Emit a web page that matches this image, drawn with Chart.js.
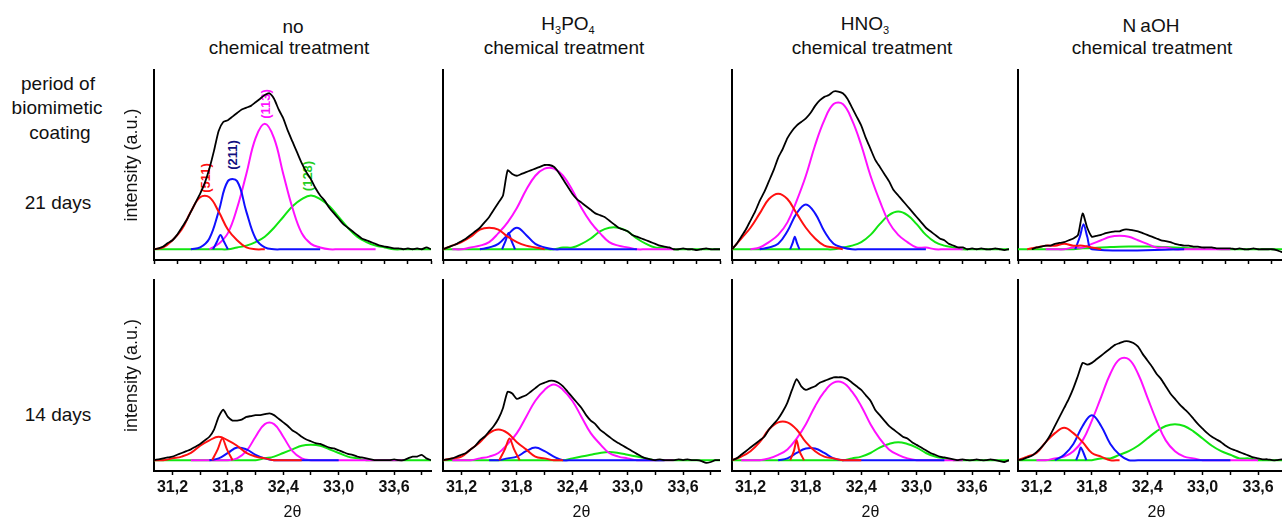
<!DOCTYPE html>
<html>
<head>
<meta charset="utf-8">
<script src="https://cdn.jsdelivr.net/npm/chart.js@4.4.1/dist/chart.umd.min.js"></script>
<style>
  body { margin: 0; width: 1282px; height: 519px; overflow: hidden; background: #fff; position: relative;
         font-family: "Liberation Sans", Arial, sans-serif; color: #111; }
  canvas { position: absolute; }
  .lbl { position: absolute; white-space: nowrap; transform: translate(-50%, -50%); font-size: 19px; line-height: 1; }
  .lbl sub { font-size: 11px; vertical-align: -4px; }
  .peak { position: absolute; white-space: nowrap; font-weight: bold; font-size: 13px; line-height: 1;
          transform: translate(-50%, -50%) rotate(-90deg); }
</style>
</head>
<body>
<div class="lbl" style="left:293px;top:26px">no</div>
<div class="lbl" style="left:289px;top:47px">chemical treatment</div>
<div class="lbl" style="left:568px;top:25px">H<sub>3</sub>PO<sub>4</sub></div>
<div class="lbl" style="left:564px;top:47px">chemical treatment</div>
<div class="lbl" style="left:865px;top:25px">HNO<sub>3</sub></div>
<div class="lbl" style="left:872px;top:47px">chemical treatment</div>
<div class="lbl" style="left:1151px;top:25px"><span style="margin-right:4px">N</span>aOH</div>
<div class="lbl" style="left:1152px;top:47px">chemical treatment</div>

<div class="lbl" style="left:58px;top:83px">period of</div>
<div class="lbl" style="left:57px;top:107px">biomimetic</div>
<div class="lbl" style="left:60px;top:132px">coating</div>
<div class="lbl" style="left:58px;top:202px">21 days</div>
<div class="lbl" style="left:58px;top:414px">14 days</div>

<div class="peak" style="left:205px;top:178px;color:#ff1010">(511)</div>
<div class="peak" style="left:232px;top:155px;color:#101080">(211)</div>
<div class="peak" style="left:265px;top:104px;color:#ff10ff">(113)</div>
<div class="peak" style="left:307px;top:176px;color:#22cc22">(128)</div>

<script>
const _ = null;

// 2θ grids
const gridFine = [31.00,31.05,31.10,31.15,31.20,31.25,31.30,31.35,31.40,31.45,31.50,31.55,31.60,31.65,31.70,31.75,31.80,31.85,31.90,31.95,
  32.00,32.05,32.10,32.15,32.20,32.25,32.30,32.35,32.40,32.45,32.50,32.55,32.60,32.65,32.70,32.75,32.80,32.85,32.90,32.95,
  33.00,33.05,33.10,33.15,33.20,33.25,33.30,33.35,33.40,33.45,33.50,33.55,33.60,33.65,33.70,33.75,33.80,33.85,33.90,33.95,34.00];
const gridCoarse = [31.0,31.1,31.2,31.3,31.4,31.5,31.6,31.7,31.8,31.9,32.0,32.1,32.2,32.3,32.4,32.5,32.6,32.7,32.8,32.9,
  33.0,33.1,33.2,33.3,33.4,33.5,33.6,33.7,33.8,33.9,34.0];

// tick positions and labels
const topTicks = [31.0,31.25,31.5,31.75,32.0,32.25,32.5,32.75,33.0,33.25,33.5,33.75,34.0];
const bottomTicks = [31.2,31.5,31.8,32.1,32.4,32.7,33.0,33.3,33.6,33.9];
const labelTicks = [31.2,31.8,32.4,33.0,33.6];
const tickLabels = ['31,2','31,8','32,4','33,0','33,6'];

// ---- 21 days, no treatment
const t1Black = [0,0.005,0.015,0.035,0.05,0.08,0.12,0.16,0.21,0.26,0.31,0.37,0.45,0.55,0.66,0.71,0.72,0.74,0.76,0.78,
  0.79,0.80,0.82,0.84,0.86,0.87,0.84,0.78,0.73,0.66,0.60,0.54,0.48,0.43,0.39,0.34,0.30,0.27,0.23,0.20,
  0.17,0.14,0.12,0.10,0.08,0.06,0.05,0.04,0.03,0.02,0.015,0.01,0.005,0.005,0,0.005,0,0.005,0,0.01,0];
const t1Red = [0,0.01,0.05,0.11,0.21,0.29,0.29,0.21,0.11,0.05,0.01,0,0,_,_,_,_,_,_,_,_,_,_,_,_,_,_,_,_,_,_];
const t1Blue = [_,_,_,_,0,0.01,0.06,0.21,0.38,0.38,0.21,0.06,0.01,0,0,0,0,0,0,_,_,_,_,_,_,_,_,_,_,_,_];
const t1Magenta = [_,_,_,_,_,_,0,0.03,0.09,0.23,0.42,0.62,0.70,0.62,0.42,0.23,0.09,0.03,0.01,0,0,0,0,0,0,_,_,_,_,_,_];
const t1Green = [0,0,0,0,0,0,0,0,0,0.01,0.02,0.04,0.07,0.12,0.18,0.24,0.28,0.30,0.28,0.24,0.18,0.12,0.07,0.04,0.02,0.01,0,0,0,0,0];
const t1BlueNx = [31.64,31.68,31.72,31.76,31.80];
const t1BlueNy = [0,0.04,0.08,0.04,0];

// ---- 21 days, H3PO4
const t2Black = [0,0.01,0.02,0.03,0.045,0.06,0.08,0.10,0.12,0.15,0.18,0.22,0.26,0.30,0.44,0.42,0.41,0.42,0.43,0.44,
  0.45,0.46,0.47,0.47,0.46,0.43,0.39,0.35,0.31,0.28,0.26,0.24,0.22,0.20,0.19,0.18,0.16,0.14,0.12,0.11,
  0.10,0.08,0.07,0.06,0.05,0.04,0.03,0.02,0.015,0.01,0,0,0.005,0,0,-0.005,0,0.005,0,0,0];
const t2Red = [0,0.02,0.04,0.07,0.11,0.12,0.11,0.07,0.04,0.02,0.01,0,_,_,_,_,_,_,_,_,_,_,_,_,_,_,_,_,_,_,_];
const t2Blue = [_,_,_,_,0,0.01,0.03,0.08,0.12,0.08,0.03,0.01,0,0,0,0,0,0,0,0,0,0,_,_,_,_,_,_,_,_,_];
const t2Magenta = [_,0,0,0.01,0.02,0.04,0.09,0.15,0.23,0.33,0.41,0.45,0.45,0.41,0.33,0.23,0.15,0.09,0.04,0.02,0.01,0,0,0,0,0,_,_,_,_,_];
const t2Green = [0,0,0,0,0,0,0,0,0,0,0,0,0,0.01,0.01,0.03,0.06,0.10,0.12,0.12,0.10,0.06,0.03,0.01,0.01,0,0,0,0,0,0];
const t2BlueNx = [31.64,31.68,31.71,31.74,31.78];
const t2BlueNy = [0,0.05,0.09,0.05,0];

// ---- 21 days, HNO3
const t3Black = [0,0.03,0.07,0.11,0.16,0.21,0.27,0.32,0.38,0.44,0.51,0.56,0.62,0.66,0.69,0.71,0.73,0.76,0.80,0.83,
  0.85,0.86,0.88,0.88,0.87,0.84,0.79,0.74,0.69,0.62,0.56,0.50,0.46,0.42,0.38,0.33,0.30,0.27,0.24,0.21,
  0.18,0.15,0.12,0.10,0.08,0.06,0.05,0.03,0.02,0.01,0.01,0,0.005,0,0.005,0,0,0.005,0,-0.005,0];
const t3Red = [0,0.06,0.12,0.20,0.28,0.31,0.28,0.20,0.12,0.06,0.02,0.01,0,_,_,_,_,_,_,_,_,_,_,_,_,_,_,_,_,_,_];
const t3Blue = [_,_,_,0,0.01,0.03,0.10,0.20,0.25,0.20,0.10,0.03,0.01,0,0,0,0,0,0,0,0,0,_,_,_,_,_,_,_,_,_];
const t3Magenta = [_,_,0,0.01,0.04,0.08,0.15,0.27,0.41,0.58,0.72,0.81,0.81,0.72,0.58,0.41,0.27,0.15,0.08,0.04,0.01,0.01,0,0,0,0,_,_,_,_,_];
const t3Green = [0,0,0,0,0,0,0,0,0,0,0,0,0.01,0.02,0.04,0.08,0.14,0.19,0.21,0.19,0.14,0.08,0.04,0.02,0.01,0,0,0,0,0,0];
const t3BlueNx = [31.63,31.66,31.68,31.70,31.73];
const t3BlueNy = [0,0.04,0.07,0.04,0];

// ---- 21 days, NaOH
const t4Black = [_,_,_,0,0.01,0.015,0.02,0.02,0.03,0.035,0.04,0.05,0.06,0.08,0.20,0.12,0.07,0.075,0.08,0.09,
  0.095,0.10,0.10,0.11,0.11,0.105,0.10,0.09,0.08,0.07,0.06,0.05,0.045,0.04,0.03,0.025,0.02,0.02,0.015,0.015,
  0.01,0.01,0.01,0.005,0.005,0.005,0.005,0,0.005,0,0,0.005,0,0,0,0,-0.005,-0.015,-0.02,-0.01,0];
const t4Red = [_,0,0.01,0.02,0.02,0.03,0.02,0.02,0.01,0,_,_,_,_,_,_,_,_,_,_,_,_,_,_,_,_,_,_,_,_,_];
const t4Magenta = [_,_,_,0,0,0,0.01,0.01,0.03,0.05,0.07,0.075,0.07,0.05,0.03,0.01,0.01,0,0,0,0,0,0,0,_,_,_,_,_,_,_];
const t4Green = [0,0,0,0,0,0,0,0.005,0.007,0.01,0.012,0.014,0.015,0.015,0.015,0.014,0.012,0.01,0.007,0.005,0.003,0.002,0,0,0,0,0,0,0,0,0];
const t4BlueNx = [31.62,31.67,31.71,31.75,31.80,32.80];
const t4BlueNy = [0,0.07,0.14,0.07,0,0];

// ---- 14 days, no treatment
const b1Black = [0,0.005,0.01,0.015,0.02,0.03,0.04,0.05,0.06,0.075,0.09,0.11,0.13,0.17,0.24,0.28,0.24,0.22,0.22,0.225,
  0.24,0.245,0.25,0.25,0.255,0.26,0.25,0.23,0.21,0.19,0.165,0.15,0.13,0.115,0.105,0.095,0.09,0.08,0.07,0.065,
  0.055,0.045,0.035,0.03,0.02,0.015,0.01,0.005,0,0,0,0,0.005,0,0,0.01,0.02,0.02,0.03,0.01,0];
const b1Red = [0,0,0.01,0.02,0.04,0.08,0.11,0.13,0.11,0.08,0.04,0.02,0.01,0,0,0,0,_,_,_,_,_,_,_,_,_,_,_,_,_,_];
const b1Blue = [_,_,_,_,_,_,0,0.01,0.04,0.07,0.06,0.03,0.01,0,0,0,0,0,0,0,0,_,_,_,_,_,_,_,_,_,_];
const b1Magenta = [_,_,_,_,0,0,0,0,0,0.01,0.05,0.13,0.20,0.20,0.13,0.05,0.01,0,0,0,0,0,0,0,0,0,0,0,_,_,_];
const b1Green = [0,0,0,0,0,0,0,0,0,0,0,0,0.01,0.02,0.04,0.06,0.08,0.085,0.08,0.06,0.04,0.02,0.01,0,0,0,0,0,0,0,0];
const b1RedNx = [31.63,31.69,31.74,31.79,31.85];
const b1RedNy = [0,0.06,0.12,0.06,0];

// ---- 14 days, H3PO4
const b2Black = [0,0.005,0.01,0.02,0.03,0.04,0.06,0.08,0.11,0.13,0.16,0.19,0.23,0.29,0.38,0.37,0.34,0.35,0.36,0.38,
  0.40,0.42,0.43,0.44,0.44,0.43,0.41,0.38,0.35,0.32,0.29,0.25,0.22,0.20,0.17,0.15,0.13,0.11,0.095,0.08,
  0.065,0.05,0.035,0.02,0.01,0.005,0,0.005,0,0,0,0.005,0,0.005,0,0,-0.005,-0.015,-0.01,0,0];
const b2Red = [0,0.01,0.02,0.06,0.10,0.15,0.17,0.15,0.10,0.06,0.02,0.01,0,0,_,_,_,_,_,_,_,_,_,_,_,_,_,_,_,_,_];
const b2Blue = [_,_,_,_,_,0,0,0.01,0.02,0.05,0.07,0.05,0.02,0,0,0,0,0,0,0,0,0,0,0,0,_,_,_,_,_,_];
const b2Magenta = [_,0,0,0,0.01,0.02,0.04,0.09,0.15,0.24,0.33,0.39,0.42,0.39,0.33,0.24,0.15,0.09,0.04,0.02,0.01,0,0,0,0,0,_,_,_,_,_];
const b2Green = [0,0,0,0,0,0,0,0,0,0,0,0,0,0,0.01,0.02,0.03,0.04,0.045,0.04,0.03,0.02,0.01,0,0,0,0,0,0,0,0];
const b2RedNx = [31.61,31.67,31.72,31.77,31.83];
const b2RedNy = [0,0.06,0.12,0.06,0];

// ---- 14 days, HNO3
const b3Black = [0,0.01,0.03,0.05,0.07,0.09,0.11,0.13,0.17,0.20,0.23,0.27,0.32,0.39,0.45,0.41,0.39,0.40,0.41,0.43,
  0.44,0.45,0.46,0.46,0.46,0.45,0.43,0.41,0.39,0.36,0.33,0.28,0.25,0.22,0.19,0.17,0.15,0.13,0.12,0.10,
  0.085,0.07,0.055,0.04,0.03,0.02,0.015,0.01,0.005,0,0.005,0,0,0.005,0,0,0.005,0,-0.005,-0.01,0];
const b3Red = [0,0.02,0.05,0.10,0.17,0.21,0.21,0.17,0.10,0.05,0.02,0.01,0,0,0,_,_,_,_,_,_,_,_,_,_,_,_,_,_,_,_];
const b3Blue = [_,_,_,_,_,0,0.01,0.04,0.065,0.065,0.04,0.01,0,0,0,0,0,0,0,0,0,0,0,0,_,_,_,_,_,_,_];
const b3Magenta = [_,0,0,0,0.01,0.03,0.06,0.12,0.20,0.30,0.38,0.43,0.43,0.38,0.30,0.20,0.12,0.06,0.03,0.01,0,0,0,0,0,0,_,_,_,_,_];
const b3Green = [0,0,0,0,0,0,0,0,0,0,0,0,0,0.01,0.02,0.04,0.07,0.09,0.10,0.09,0.07,0.04,0.02,0.01,0,0,0,0,0,0,0];
const b3RedNx = [31.63,31.67,31.70,31.73,31.78];
const b3RedNy = [0,0.05,0.11,0.05,0];

// ---- 14 days, NaOH
const b4Black = [0,0.005,0.015,0.025,0.045,0.07,0.10,0.14,0.19,0.24,0.29,0.34,0.40,0.47,0.54,0.53,0.54,0.56,0.58,0.60,
  0.62,0.64,0.65,0.66,0.66,0.65,0.63,0.59,0.555,0.52,0.48,0.45,0.41,0.37,0.34,0.31,0.285,0.26,0.23,0.20,
  0.175,0.15,0.13,0.115,0.10,0.08,0.065,0.055,0.045,0.035,0.025,0.015,0.01,0.005,0.005,0,0,0.005,0,0,0];
const b4Red = [0,0.02,0.04,0.10,0.15,0.18,0.15,0.10,0.04,0.02,0,0,_,_,_,_,_,_,_,_,_,_,_,_,_,_,_,_,_,_,_];
const b4Blue = [_,_,_,_,0,0.03,0.09,0.19,0.25,0.19,0.09,0.03,0,0,0,0,0,0,0,0,0,0,0,0,_,_,_,_,_,_,_];
const b4Magenta = [_,_,0,0,0.01,0.02,0.05,0.11,0.22,0.35,0.48,0.56,0.56,0.48,0.35,0.22,0.11,0.05,0.02,0.01,0,0,0,0,0,0,0,_,_,_,_];
const b4Green = [0,0,0,0,0,0,0,0,0,0.01,0.01,0.03,0.05,0.08,0.12,0.16,0.19,0.20,0.19,0.16,0.12,0.08,0.05,0.03,0.01,0.01,0,0,0,0,0];
const b4BlueNx = [31.63,31.66,31.68,31.71,31.74];
const b4BlueNy = [0,0.04,0.07,0.04,0];

const colors = { black: '#000000', red: '#ff1010', blue: '#1010ff', magenta: '#ff10ff', green: '#11e611' };

const panels = [
  { col: 0, row: 0, black: t1Black, red: t1Red, blueN: [t1BlueNx, t1BlueNy], blue: t1Blue, magenta: t1Magenta, green: t1Green },
  { col: 1, row: 0, black: t2Black, red: t2Red, blueN: [t2BlueNx, t2BlueNy], blue: t2Blue, magenta: t2Magenta, green: t2Green },
  { col: 2, row: 0, black: t3Black, red: t3Red, blueN: [t3BlueNx, t3BlueNy], blue: t3Blue, magenta: t3Magenta, green: t3Green },
  { col: 3, row: 0, black: t4Black, red: t4Red, blueN: [t4BlueNx, t4BlueNy], magenta: t4Magenta, green: t4Green },
  { col: 0, row: 1, black: b1Black, redN: [b1RedNx, b1RedNy], red: b1Red, blue: b1Blue, magenta: b1Magenta, green: b1Green },
  { col: 1, row: 1, black: b2Black, redN: [b2RedNx, b2RedNy], red: b2Red, blue: b2Blue, magenta: b2Magenta, green: b2Green },
  { col: 2, row: 1, black: b3Black, redN: [b3RedNx, b3RedNy], red: b3Red, blue: b3Blue, magenta: b3Magenta, green: b3Green },
  { col: 3, row: 1, black: b4Black, blueN: [b4BlueNx, b4BlueNy], red: b4Red, blue: b4Blue, magenta: b4Magenta, green: b4Green }
];

// layout of the plot areas on the page
const colLeft = [154, 443, 732, 1018];
const rowTop = [70, 280];
const rowHeight = [190, 191];
const plotWidth = 277;

Chart.defaults.font.family = '"Liberation Sans", Arial, sans-serif';

const series = (xs, ys) => xs.map((x, i) => ({ x: x, y: ys[i] }));
const line = (xs, ys, color, width, tension) => ({
  data: series(xs, ys), borderColor: color, borderWidth: width, pointRadius: 0, tension: tension, fill: false
});

panels.forEach(p => {
  const yW = p.col === 0 ? 54 : 6;
  const xH = p.row === 0 ? 10 : 51;
  const padTop = 4, padRight = 6;
  const canvas = document.createElement('canvas');
  canvas.width = yW + plotWidth + padRight;
  canvas.height = padTop + rowHeight[p.row] + xH;
  canvas.style.left = (colLeft[p.col] - yW) + 'px';
  canvas.style.top = (rowTop[p.row] - padTop) + 'px';
  document.body.appendChild(canvas);

  // first dataset is drawn on top
  const ds = [line(gridFine, p.black, colors.black, 1.8, 0.2)];
  if (p.redN) ds.push(line(p.redN[0], p.redN[1], colors.red, 2, 0.3));
  ds.push(line(gridCoarse, p.red, colors.red, 2, 0.4));
  if (p.blueN) ds.push(line(p.blueN[0], p.blueN[1], colors.blue, 2, 0.3));
  if (p.blue) ds.push(line(gridCoarse, p.blue, colors.blue, 2, 0.4));
  ds.push(line(gridCoarse, p.magenta, colors.magenta, 2, 0.4));
  ds.push(line(gridCoarse, p.green, colors.green, 2, 0.4));

  const ticksForRow = p.row === 0 ? topTicks : bottomTicks;

  new Chart(canvas, {
    type: 'line',
    data: { datasets: ds },
    options: {
      responsive: false,
      animation: false,
      devicePixelRatio: 1,
      layout: { padding: { top: padTop, right: padRight, left: 0, bottom: 0 } },
      plugins: { legend: { display: false }, tooltip: { enabled: false } },
      scales: {
        x: {
          type: 'linear', min: 31, max: 34,
          afterBuildTicks: s => { s.ticks = ticksForRow.map(v => ({ value: v })); },
          afterFit: s => { s.height = xH; },
          ticks: {
            autoSkip: false, maxRotation: 0, padding: 3, color: '#111', font: { size: 16, weight: 'bold' },
            callback: v => {
              if (p.row === 0) return '';
              const k = labelTicks.findIndex(t => Math.abs(t - v) < 1e-6);
              return k >= 0 ? tickLabels[k] : '';
            }
          },
          grid: { display: true, drawOnChartArea: false, drawTicks: true, tickLength: 4, tickColor: '#000', tickWidth: 1.5 },
          border: { display: true, color: '#000', width: 2 },
          title: { display: p.row === 1, text: '2θ', color: '#111', font: { size: 16 }, padding: 0 }
        },
        y: {
          min: -0.06, max: 1.0,
          afterFit: s => { s.width = yW; },
          ticks: { display: false },
          grid: { display: false },
          border: { display: true, color: '#000', width: 2 },
          title: { display: p.col === 0, text: 'intensity (a.u.)', color: '#111', font: { size: 18 }, padding: { top: 21, bottom: 0 } }
        }
      }
    }
  });
});
</script>
</body>
</html>
